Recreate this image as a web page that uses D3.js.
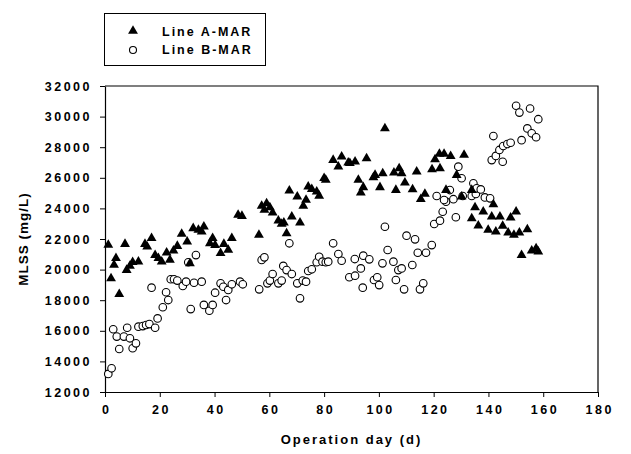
<!DOCTYPE html>
<html><head><meta charset="utf-8">
<script src="https://cdn.jsdelivr.net/npm/d3@7"></script>
<style>
html,body{margin:0;padding:0;background:#fff;}
text{font-family:"Liberation Sans",Arial,sans-serif;font-weight:bold;fill:#000;}
</style></head>
<body><svg id="c" width="631" height="454"></svg>
<script>
const xTicks=[0,20,40,60,80,100,120,140,160,180];
const yTicks=[12000,14000,16000,18000,20000,22000,24000,26000,28000,30000,32000];
const seriesNames=["Line A-MAR","Line B-MAR"];
const aDays=[1.2,2.2,3.3,4.0,5.2,7.3,7.9,9.1,10.1,12.2,14.6,15.4,17.0,18.3,19.5,20.7,22.5,23.7,25.0,26.4,28.0,30.0,31.0,32.2,34.1,35.3,36.1,38.3,39.3,40.2,42.2,43.4,45.0,46.3,48.6,50.0,56.2,57.2,58.2,59.0,60.2,61.2,63.3,64.5,65.3,66.3,67.3,68.2,70.2,71.2,72.4,73.4,74.2,75.5,77.3,78.2,80.0,80.6,83.3,85.2,86.4,88.8,89.4,91.3,92.5,93.4,94.3,95.5,98.0,98.6,100.4,101.4,102.2,105.5,106.2,107.4,108.3,109.5,112.3,113.8,115.3,116.8,119.4,120.5,122.1,122.3,123.8,124.5,126.2,128.4,130.2,131.1,133.9,133.9,135.1,136.3,138.1,139.9,141.2,141.8,142.7,144.2,145.2,147.2,148.1,149.3,150.1,151.3,152.1,154.2,155.8,157.4,158.2];
const aVals=[21610,19430,20300,20740,18390,21670,19970,20240,20480,20520,21670,21500,22050,20950,20740,20520,21100,20630,21240,21540,22330,21820,20410,22700,22590,22480,22800,21720,22050,21600,21070,21670,21280,22050,23570,23500,22260,24160,23900,24330,24070,23720,23200,22980,23070,22370,25160,23460,24760,23070,24160,24550,25420,25250,25100,24810,25970,25860,27160,26730,27380,26990,26950,27050,25860,25030,25380,27270,26030,26180,25380,26290,29230,26330,25200,26620,26290,25680,25240,26400,24600,24940,26550,27200,27560,26620,27560,25200,27420,26180,24760,27490,25200,23350,24070,22870,23780,22590,23460,24260,22480,23460,22850,22410,23400,22260,23780,22410,20950,22630,21240,21390,21170];
const bDays=[1.2,2.4,3.0,4.3,5.2,6.9,8.1,9.1,10.1,11.3,12.2,13.8,15.0,16.2,17.0,18.3,19.2,21.1,22.3,23.1,24.0,25.2,26.4,28.4,29.6,30.4,31.3,32.5,33.2,35.3,36.1,38.1,39.3,40.2,42.2,43.2,44.2,45.0,46.3,49.3,50.3,56.3,57.2,58.2,59.3,60.2,61.2,63.3,64.5,65.1,66.3,67.3,68.2,70.2,71.2,72.2,73.4,74.2,75.5,77.3,78.2,79.4,80.6,81.5,83.3,85.2,86.4,89.2,91.2,91.3,93.4,94.1,94.3,96.5,98.2,99.4,100.1,101.3,102.2,103.2,105.3,106.2,107.1,108.3,109.2,110.1,112.2,113.2,114.2,115.0,116.2,117.2,119.3,120.2,122.3,123.3,124.5,121.1,123.8,125.9,127.2,128.1,129.0,130.2,130.6,133.9,134.5,135.4,135.7,137.2,138.7,140.6,141.2,141.8,142.7,144.0,145.2,145.4,146.9,148.1,150.1,151.3,152.1,154.2,155.2,155.8,157.4,158.2];
const bVals=[13180,13550,16100,15620,14810,15620,16200,15510,14860,15180,16270,16310,16380,16440,18820,16200,16810,17540,18520,18010,19370,19370,19280,18930,19210,20480,17420,19140,20950,19210,17690,17310,17690,18490,19100,18880,18010,18670,19040,19210,19040,18710,20630,20800,19100,19280,19710,19100,19280,20240,19970,21720,19710,19100,18120,19280,19210,19910,20020,20480,20840,20520,20480,20520,21720,21020,20580,19500,20690,19600,20080,18820,20910,20670,19320,19500,18990,20410,22800,21280,20520,19320,19970,20080,18710,22220,20300,21980,21100,18710,19100,21100,21600,22980,23200,23780,24440,24810,24550,25200,24600,23420,26730,25970,24810,24810,25640,24940,25310,25240,24720,24660,27160,28730,27430,27820,27050,28080,28210,28290,30710,30260,28460,29230,30530,28910,28650,29830];

const svg=d3.select("#c");
const L=105,R=598,T=86,B=392;
const x=d3.scaleLinear().domain([0,180]).range([L,R]);
const y=d3.scaleLinear().domain([12000,32000]).range([B,T]);

// frame
svg.append("path").attr("d",`M${L},${T}H${R}V${B}`).attr("fill","none").attr("stroke","#000").attr("stroke-width",1.2);

const xa=svg.append("g").attr("transform",`translate(0,${B})`)
  .call(d3.axisBottom(x).tickValues(xTicks).tickSize(5).tickPadding(8).tickSizeOuter(0));
const ya=svg.append("g").attr("transform",`translate(${L},0)`)
  .call(d3.axisLeft(y).tickValues(yTicks).tickSize(5).tickPadding(8).tickSizeOuter(0).tickFormat(d3.format("d")));
[xa,ya].forEach(g=>{
  g.select(".domain").attr("stroke","#000").attr("stroke-width",1.2);
  g.selectAll(".tick line").attr("stroke","#000").attr("stroke-width",1);
  g.selectAll(".tick text").attr("font-size","12.5px").attr("letter-spacing","2.5px")
   .style("font-family","'Liberation Sans',Arial,sans-serif").style("font-weight","bold").attr("fill","#000");
});
xa.selectAll(".tick text").attr("dx","1.2px");

svg.append("text").attr("x",(L+R)/2).attr("y",444).attr("text-anchor","middle")
  .attr("font-size","13px").attr("letter-spacing","2px").text("Operation day (d)");
svg.append("text").attr("transform",`translate(28,${(T+B)/2}) rotate(-90)`).attr("text-anchor","middle")
  .attr("font-size","13.5px").attr("letter-spacing","1px").text("MLSS (mg/L)");

const tri=d3.symbol(d3.symbolTriangle).size(42);
const aData=aDays.map((d,i)=>[d,aVals[i]]);
const bData=bDays.map((d,i)=>[d,bVals[i]]);
svg.append("g").selectAll("circle").data(bData).join("circle")
  .attr("cx",d=>x(d[0])).attr("cy",d=>y(d[1])).attr("r",3.8)
  .attr("fill","#fff").attr("stroke","#000").attr("stroke-width",1.1);
svg.append("g").selectAll("path").data(aData).join("path")
  .attr("d",tri).attr("transform",d=>`translate(${x(d[0])},${y(d[1])})`).attr("fill","#000");

// legend
const lg=svg.append("g");
lg.append("rect").attr("x",104.5).attr("y",13.5).attr("width",161).attr("height",52)
  .attr("fill","#fff").attr("stroke","#000").attr("stroke-width",1);
lg.append("path").attr("d",tri).attr("transform","translate(133,31)").attr("fill","#000");
lg.append("circle").attr("cx",133).attr("cy",50).attr("r",3.5).attr("fill","#fff").attr("stroke","#000").attr("stroke-width",1.1);
lg.selectAll("text.lt").data(seriesNames).join("text").attr("class","lt")
  .attr("x",162).attr("y",(d,i)=>35.5+i*18.5).attr("font-size","12.5px").attr("letter-spacing","2px").text(d=>d);
</script></body></html>
